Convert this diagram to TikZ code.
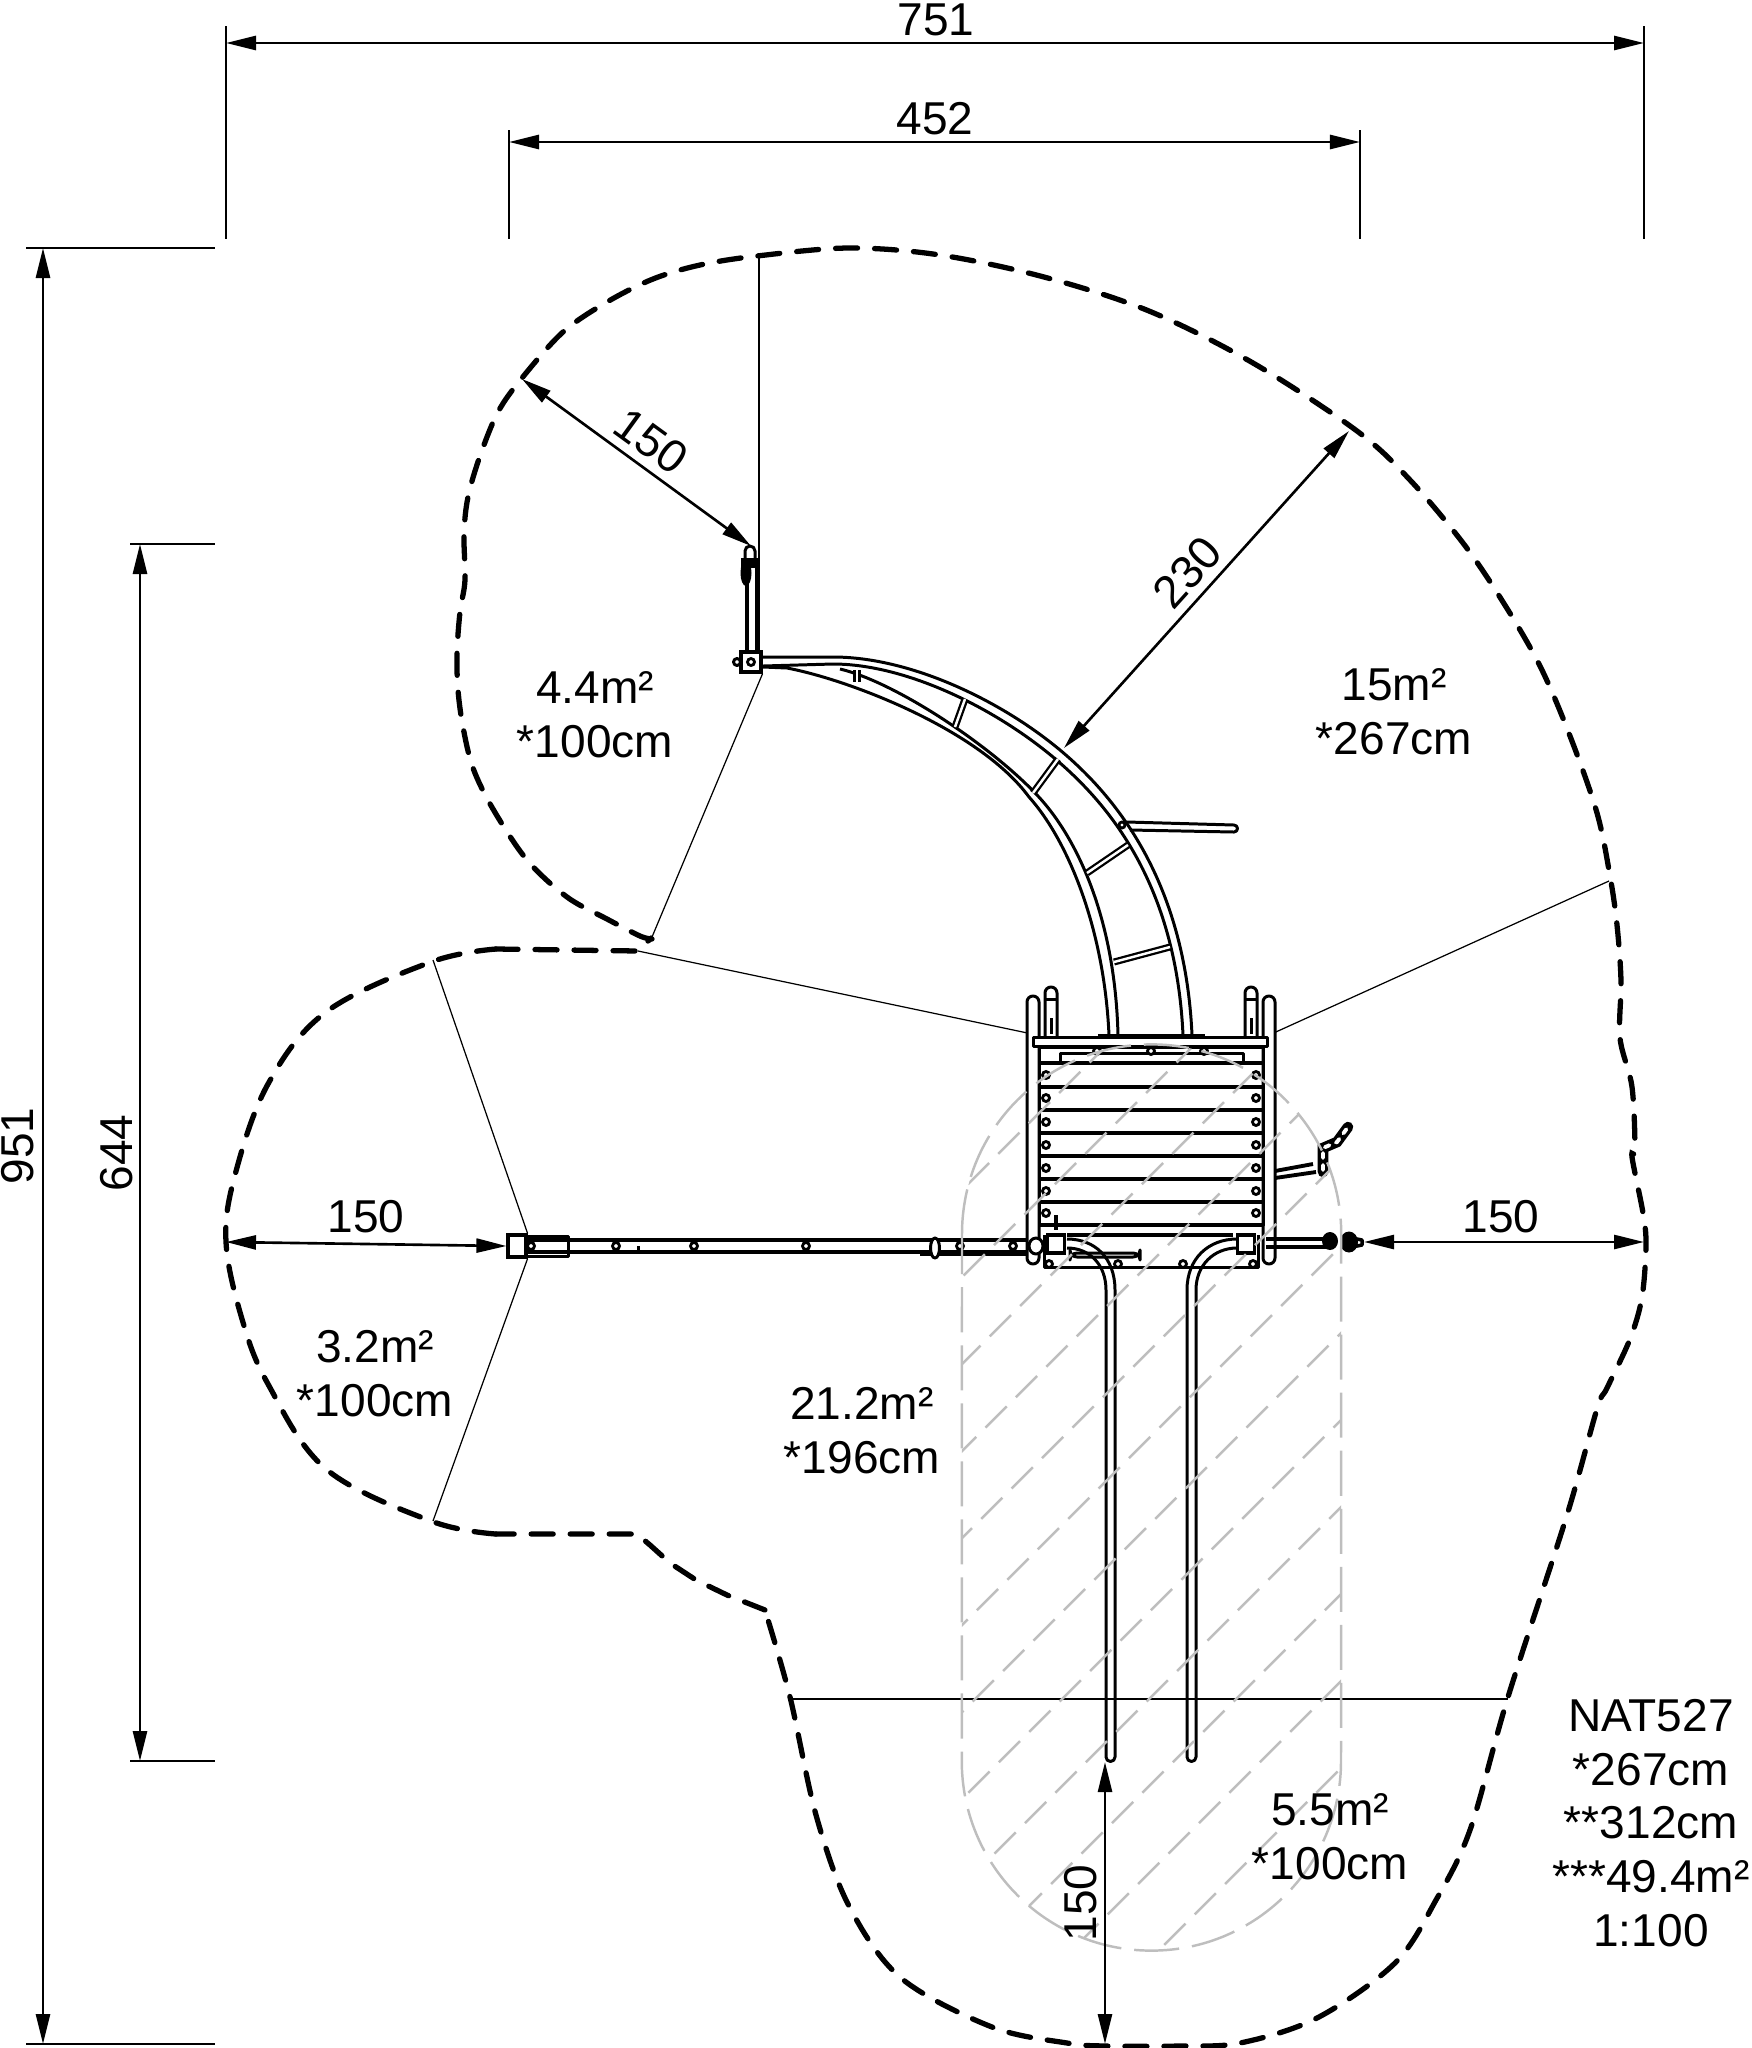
\documentclass[tikz,border=0pt]{standalone}
\usepackage{fontspec}
\setmainfont{Liberation Sans}
\usetikzlibrary{arrows.meta, calc}
\definecolor{hatchgray}{RGB}{190, 190, 190}
\tikzset{
  outline/.style={line width=1.5pt, line cap=round, dash pattern=on 0.22cm off 0.17cm},
  dimline/.style={line width=0.75pt, {Triangle[length=3mm,width=1.4mm]}-{Triangle[length=3mm,width=1.4mm]}},
  extline/.style={line width=0.6pt},
  leader/.style={line width=0.35pt},
  steel/.style={line width=0.85pt, line join=round},
  heavy/.style={line width=1.1pt},
  hatchline/.style={draw=hatchgray, line width=0.7pt, dash pattern=on 0.3cm off 0.13cm},
  boltmark/.style={circle, draw, line width=0.8pt, fill=white, minimum size=0.07cm, inner sep=0pt},
  clampbox/.style={rectangle, draw, line width=0.9pt, fill=white, inner sep=0pt},
  dimtext/.style={font=\fontsize{13.1}{15.3}\selectfont, inner sep=0pt, align=center}
}
\begin{document}
\begin{tikzpicture}[x=0.01cm, y=-0.01cm]
  \useasboundingbox (0,0) rectangle (1752,2048);

  % Safety zone
  \draw[outline] plot[smooth, tension=0.55] coordinates {(652,939) (640,936) (607,919) (567,897) (527,860) (493,809) (473,768) (463,727) (458,690) (457,653) (460,612) (465,580) (464,534) (468,497) (480,456) (498,412) (522,378) (563,332) (607,302) (653,279) (700,265) (757,256) (849,248) (940,255) (1044,277) (1149,311) (1253,363) (1357,431) (1410,480) (1463,543) (1503,602) (1540,666) (1570,736) (1597,813) (1610,876) (1617,925) (1621,981) (1620,1038) (1632,1087) (1635,1150) (1632,1157) (1643,1213) (1646,1245) (1642,1297) (1630,1339) (1607,1388) (1597,1409) (1567,1515) (1508,1697) (1470,1830) (1436,1900) (1395,1963) (1317,2018) (1240,2043) (1180,2046) (1105,2046) (1067,2043) (992,2027) (901,1978) (849,1906) (816,1815) (790,1697) (765,1610)};
  \draw[outline] (765,1610) -- (727,1595) -- (696,1580) -- (670,1563) -- (650,1545) -- (637,1534) -- (496,1534);
  \draw[outline] plot[smooth, tension=0.6] coordinates {(496,1534) (431,1521) (326,1469) (268,1384) (242,1319) (226,1242) (235,1175) (268,1084) (326,1012) (431,962) (496,949)};
  \draw[outline] (496,949) -- (638,951) -- (651,938);

  % Leader lines
  \coordinate (zoneTop) at (759,257);
  \coordinate (rodFoot) at (759,652);
  \coordinate (zoneNotch) at (652,937);
  \coordinate (zoneInner) at (638,951);
  \coordinate (zoneRight) at (1609,881);
  \coordinate (zoneUpperLeft) at (433,960);
  \coordinate (zoneLowerLeft) at (433,1521);
  \coordinate (zoneLowL) at (792,1699);
  \coordinate (zoneLowR) at (1508,1699);
  \coordinate (deckLeft) at (1037,1035);
  \coordinate (deckRight) at (1267,1036);
  \node[clampbox, minimum size=0.2cm] (archClamp) at (751,662) {};
  \node[clampbox, minimum width=0.18cm, minimum height=0.22cm] (barEnd) at (517,1246) {};
  \draw[leader] (zoneTop) -- (rodFoot);
  \draw[leader] (archClamp.south east) -- (zoneNotch);
  \draw[leader] (zoneInner) -- (deckLeft);
  \draw[leader] (deckRight) -- (zoneRight);
  \draw[leader] (zoneUpperLeft) -- (barEnd.north east);
  \draw[leader] (barEnd.south east) -- (zoneLowerLeft);
  \draw[leader] (zoneLowL) -- (zoneLowR);

  % Arch
  \draw[steel] (763,657) -- (833,657) .. controls (910,657) and (1000,700) .. (1060,750) .. controls (1115,796) and (1185,880) .. (1192,1035);
  \draw[steel] (763,666) -- (833,664) .. controls (905,664) and (993,707) .. (1053,757) .. controls (1108,803) and (1176,883) .. (1183,1035);
  \draw[steel] (840,669) .. controls (895,682) and (990,745) .. (1037,795) .. controls (1075,835) and (1115,915) .. (1118,1035);
  \draw[steel] (763,667) -- (787,668) .. controls (850,680) and (980,730) .. (1029,797) .. controls (1066,838) and (1104,925) .. (1109,1035);
  \foreach \ax/\ay/\bx/\by in {857/670/857/682, 965/699/955/727, 1058/759/1033/793, 1128/845/1087/873, 1170/947/1114/962}
    \draw[line width=2pt] (\ax,\ay) -- (\bx,\by);
  \foreach \ax/\ay/\bx/\by in {857/670/857/682, 965/699/955/727, 1058/759/1033/793, 1128/845/1087/873, 1170/947/1114/962}
    \draw[white, line width=0.7pt] (\ax,\ay) -- (\bx,\by);
  \draw[steel] (1127,822) -- (1234,825) arc[start angle=90, end angle=-90, radius=0.035cm] -- (1130,830);
  \node[boltmark, minimum size=0.06cm] (armPivot) at (1122,825) {};

  % Rod with knot
  \draw[steel, line width=1pt] (747,650) -- (747,560) (757,650) -- (757,560);
  \draw[steel] (745,560) -- (745,551) arc[start angle=180, end angle=0, radius=0.05cm] -- (755,560);
  \fill (741,558) rectangle (760,568);
  \fill (746,573) ellipse[x radius=0.055cm, y radius=0.13cm];
  \node[boltmark] (archBolt) at (751,662) {};
  \draw[steel, fill=white] (737,662) circle[radius=0.035cm];

  % Horizontal bar
  \draw[heavy] (526,1240) -- (1040,1240) (526,1252) -- (1040,1252);
  \draw[steel] (526,1236) -- (568,1236) -- (568,1256) -- (526,1256);
  \draw[steel] (920,1254) -- (1040,1254);
  \draw[steel] (638,1246) -- (638,1250);
  \foreach \bx in {531, 616, 694, 806, 960, 1013}
    \node[boltmark] (bar\bx) at (\bx,1246) {};
  \draw[steel, fill=white] (935,1248) ellipse[x radius=0.045cm, y radius=0.1cm];

  % Posts
  \foreach \px in {1027, 1263}
    \draw[steel, fill=white] (\px,1258) -- (\px,1002) arc[start angle=180, end angle=0, radius=0.06cm] -- (\px+12,1258) arc[start angle=0, end angle=-180, radius=0.06cm] -- cycle;
  \foreach \px in {1045, 1245} {
    \draw[steel, fill=white] (\px,1037) -- (\px,993) arc[start angle=180, end angle=0, radius=0.06cm] -- (\px+12,1037);
    \draw[steel] (\px,999) -- (\px+12,999);
    \fill (\px+5,1018) rectangle (\px+8,1034);
  }

  % Deck
  \draw[steel, fill=white] (1033,1037) rectangle (1267,1046);
  \draw[line width=1.1pt] (1098,1036) -- (1205,1036);
  \draw[steel] (1039,1047) rectangle (1263,1225);
  \draw[steel] (1060,1053) rectangle (1243,1062);
  \foreach \sy in {1063, 1087, 1110, 1133, 1156, 1179, 1202, 1225}
    \draw[heavy] (1039,\sy) -- (1263,\sy);
  \foreach \sy in {1075, 1098, 1122, 1145, 1168, 1191, 1213} {
    \node[boltmark] at (1046,\sy) {};
    \node[boltmark] at (1256,\sy) {};
  }
  \foreach \bx in {1097, 1151, 1204}
    \node[boltmark] at (\bx,1051) {};
  \draw[line width=1.3pt] (1067,1235) -- (1233,1235);
  \draw[steel] (1044,1235) -- (1044,1267) -- (1258,1267) -- (1258,1235);
  \draw[steel, rounded corners=2pt] (1070,1253) rectangle (1140,1257);
  \foreach \bx in {1049, 1118, 1183, 1253}
    \node[boltmark] at (\bx,1264) {};
  \draw[steel, fill=white] (1036,1246) ellipse[x radius=0.07cm, y radius=0.08cm];
  \draw[line width=1.4pt] (1056,1215) -- (1056,1230);

  % Long pipes
  \draw[steel] (1067,1239) .. controls (1095,1239) and (1115,1258) .. (1115,1290) -- (1115,1757) arc[start angle=0, end angle=-180, radius=0.045cm] -- (1106,1290) .. controls (1106,1265) and (1090,1248) .. (1067,1248);
  \draw[steel] (1237,1239) .. controls (1209,1239) and (1187,1258) .. (1187,1290) -- (1187,1757) arc[start angle=180, end angle=360, radius=0.045cm] -- (1196,1290) .. controls (1196,1265) and (1214,1248) .. (1237,1248);
  \node[clampbox, minimum width=0.17cm, minimum height=0.18cm] (clampLeft) at (1056,1244) {};
  \node[clampbox, minimum width=0.17cm, minimum height=0.18cm] (clampRight) at (1246,1244) {};

  % Right bar and knots
  \draw[heavy] (1266,1239) -- (1333,1239) (1266,1247) -- (1333,1247);
  \fill (1330,1241) ellipse[x radius=0.08cm, y radius=0.09cm];
  \fill (1349,1242) ellipse[x radius=0.09cm, y radius=0.105cm];
  \draw[steel, line width=1pt] (1352,1238) -- (1362,1240) -- (1362,1245) -- (1352,1247);
  \draw[heavy] (1275,1171) -- (1313,1164) (1275,1178) -- (1316,1172);
  \draw[line width=3pt, line cap=round] (1323,1172) -- (1323,1148) -- (1337,1142) -- (1348,1127);
  \draw[white, line width=1.1pt, line cap=round, dash pattern=on 0.05cm off 0.07cm] (1323,1170) -- (1323,1148) -- (1337,1142) -- (1348,1127);

  % Hatched surface
  \begin{scope}
    \clip (962,1234) arc[start angle=180, end angle=0, radius=1.895cm] -- (1341,1761) arc[start angle=0, end angle=-180, radius=1.895cm] -- cycle;
    \foreach \k in {0,...,11}
      \draw[hatchline] ({3109-87*\k-950},950) -- ({3109-87*\k-2000},2000);
  \end{scope}
  \draw[hatchline, dash pattern=on 0.45cm off 0.13cm] (962,1234) arc[start angle=180, end angle=0, radius=1.895cm] -- (1341,1761) arc[start angle=0, end angle=-180, radius=1.895cm] -- cycle;

  % Dimensions
  \coordinate (topL) at (226,43);
  \coordinate (topR) at (1644,43);
  \coordinate (midL) at (509,142);
  \coordinate (midR) at (1360,142);
  \coordinate (sideT) at (43,248);
  \coordinate (sideB) at (43,2044);
  \coordinate (innerT) at (140,544);
  \coordinate (innerB) at (140,1761);
  \draw[extline] (226,26) -- (226,239) (1644,26) -- (1644,239);
  \draw[extline] (509,130) -- (509,239) (1360,130) -- (1360,239);
  \draw[extline] (26,248) -- (215,248) (26,2044) -- (215,2044);
  \draw[extline] (130,544) -- (215,544) (130,1761) -- (215,1761);
  \draw[dimline] (topL) -- (topR);
  \draw[dimline] (midL) -- (midR);
  \draw[dimline] (sideT) -- (sideB);
  \draw[dimline] (innerT) -- (innerB);
  \coordinate (zoneW) at (226,1242);
  \coordinate (zoneE) at (1644,1242);
  \coordinate (zoneS) at (1105,2044);
  \coordinate (zoneNW) at (522,379);
  \coordinate (zoneNE) at (1349,431);
  \coordinate (rodTip) at (751,546);
  \coordinate (archTop) at (1064,748);
  \coordinate (knotTip) at (1364,1242);
  \coordinate (pipeEnd) at (1105,1762);
  \draw[dimline] (zoneW) -- (barEnd.west);
  \draw[dimline] (zoneE) -- (knotTip);
  \draw[dimline] (zoneS) -- (pipeEnd);
  \draw[dimline] (zoneNW) -- (rodTip);
  \draw[dimline] (zoneNE) -- (archTop);

  \node[dimtext] (lenTotal) at (936,20) {751};
  \node[dimtext] (lenMid) at (935,119) {452};
  \node[dimtext, rotate=90] (lenSide) at (18,1146) {951};
  \node[dimtext, rotate=90] (lenInner) at (117,1153) {644};
  \node[dimtext] (gapWest) at (366,1217) {150};
  \node[dimtext] (gapEast) at (1501,1217) {150};
  \node[dimtext, rotate=90] (gapSouth) at (1081,1903) {150};
  \node[dimtext, rotate=-36] (gapRod) at (651,441) {150};
  \node[dimtext, rotate=48] (gapArch) at (1187,572) {230};

  % Zone labels
  \node[dimtext] (areaRod) at (595,715) {4.4m²\\*100cm};
  \node[dimtext] (areaArch) at (1394,712) {15m²\\*267cm};
  \node[dimtext] (areaBar) at (375,1374) {3.2m²\\*100cm};
  \node[dimtext] (areaDeck) at (862,1431) {21.2m²\\*196cm};
  \node[dimtext] (areaPipes) at (1330,1837) {5.5m²\\*100cm};
  \node[dimtext] (modelInfo) at (1651,1823) {NAT527\\*267cm\\**312cm\\***49.4m²\\1:100};
\end{tikzpicture}
\end{document}
